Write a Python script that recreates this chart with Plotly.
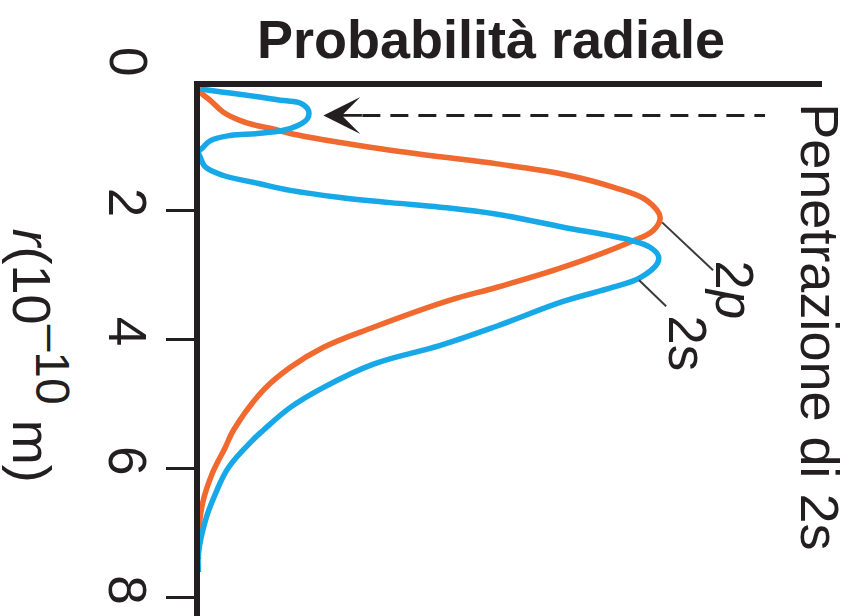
import plotly.graph_objects as go

# ---- data ----
r_2p = [0.10, 0.17, 0.30, 0.48, 0.61, 0.69, 0.74, 0.81, 0.95, 1.07, 1.17, 1.28, 1.44, 1.64,
        1.85, 2.11, 2.31, 2.49, 2.88, 3.19, 3.39, 3.81, 4.12, 4.43, 4.78, 5.40, 5.67, 6.07,
        6.53, 7.03, 7.40]
p_2p = [0.0, 0.4, 2.6, 5.4, 9.1, 12.8, 16.2, 19.9, 30.7, 41.6, 52.4, 64.7, 79.0, 89.8,
        97.2, 100.0, 98.5, 93.5, 79.0, 64.7, 54.5, 37.9, 27.1, 19.9, 14.1, 7.6, 5.8, 3.0,
        0.9, 0.0, 0.0]

r_2s = [0.12, 0.17, 0.24, 0.30, 0.34, 0.45, 0.58, 0.69, 0.76, 0.81, 0.84, 0.92, 1.03, 1.10,
        1.18, 1.33, 1.46, 1.58, 1.69, 1.80, 1.88, 1.95, 2.06, 2.26, 2.46, 2.57, 2.70, 2.82,
        3.04, 3.19, 3.41, 3.79, 4.09, 4.38, 4.74, 5.05, 5.40, 5.56, 5.98, 6.38, 6.80, 7.31, 7.60]
p_2s = [0.4, 5.4, 12.8, 18.4, 22.1, 23.8, 23.6, 21.4, 18.4, 12.8, 6.9, 2.6, 0.9, 0.0,
        0.4, 1.5, 5.4, 12.8, 19.9, 30.7, 41.6, 52.4, 64.7, 79.0, 93.5, 97.8, 99.6, 99.4,
        95.7, 89.8, 79.0, 64.7, 52.4, 37.9, 27.1, 19.9, 14.1, 11.7, 6.5, 3.7, 1.5, 0.0, 0.0]

r_ticks = [2, 4, 6, 8]
r_tick_labels = ["2", "4", "6", "8"]

title_text = "<b>Probabilità radiale</b>"
y_title_text = "<i>r</i>(10<sup><span style='font-size:48px'>–10</span></sup> m)"
side_text = "Penetrazione di 2s"
label_2p = "2<i>p</i>"
label_2s = "2s"

ORANGE = "#F0692F"
BLUE = "#17A8E8"
INK = "#231F20"
FONT = "Liberation Sans, Arial, sans-serif"

W, H = 852, 616
L, R, T, B = 199.5, 822, 86.5, 616


def px(x):
    return (x - L) / (R - L)


def py(y):
    return (B - y) / (B - T)


fig = go.Figure()
fig.add_trace(go.Scatter(x=p_2p, y=r_2p, mode="lines", name="2p",
                         line=dict(color=ORANGE, width=5.5, shape="spline", smoothing=1.1)))
fig.add_trace(go.Scatter(x=p_2s, y=r_2s, mode="lines", name="2s",
                         line=dict(color=BLUE, width=5.5, shape="spline", smoothing=1.1)))

x0 = (L - 198) / 4.62
x1 = (R - 198) / 4.62
y0 = (T - 80.7) / 64.65
y1 = (B - 80.7) / 64.65

fig.update_xaxes(range=[x0, x1], side="top", showline=True, linewidth=6, linecolor=INK,
                 showticklabels=False, ticks="", showgrid=False, zeroline=False)
fig.update_yaxes(range=[y1, y0], showline=True, linewidth=6, linecolor=INK,
                 tickvals=r_ticks, ticktext=r_tick_labels, tickangle=90,
                 ticks="outside", ticklen=28, tickwidth=3, tickcolor=INK,
                 ticklabelstandoff=-7,
                 tickfont=dict(family=FONT, size=53, color=INK),
                 showgrid=False, zeroline=False)

ann = [
    dict(text=title_text, x=px(491), y=py(38), font=dict(size=54)),
    dict(text="0", x=px(128), y=py(61), textangle=90, font=dict(size=53)),
    dict(text=y_title_text, x=px(40), y=py(355), textangle=90, font=dict(size=54)),
    dict(text=side_text, x=px(820), y=py(326), textangle=90, font=dict(size=54)),
    dict(text=label_2p, x=px(735), y=py(289), textangle=90, font=dict(size=53)),
    dict(text=label_2s, x=px(688), y=py(343), textangle=90, font=dict(size=53)),
]
for a in ann:
    a.update(xref="paper", yref="paper", showarrow=False, xanchor="center", yanchor="middle")
    a["font"].update(family=FONT, color=INK)
    fig.add_annotation(**a)

# dashed arrow (penetration of 2s)
fig.add_annotation(x=px(323), y=py(115), xref="paper", yref="paper", text="",
                   showarrow=True, ax=40, ay=0, arrowhead=3, arrowsize=2.2,
                   arrowwidth=2.8, arrowcolor=INK)
fig.add_shape(type="line", xref="paper", yref="paper", x0=px(362), x1=px(765),
              y0=py(115), y1=py(115), line=dict(color=INK, width=3, dash="18px,10px"))

# leader lines
fig.add_shape(type="line", xref="paper", yref="paper", x0=px(662), y0=py(222),
              x1=px(713), y1=py(270), line=dict(color="#3a3a3a", width=2))
fig.add_shape(type="line", xref="paper", yref="paper", x0=px(639), y0=py(280),
              x1=px(666), y1=py(306), line=dict(color="#3a3a3a", width=2))

fig.update_layout(width=W, height=H, showlegend=False,
                  margin=dict(l=L, r=W - R, t=T, b=H - B),
                  paper_bgcolor="white", plot_bgcolor="white")

fig.write_html("out.html", config={"displayModeBar": False},
               post_script="document.body.style.margin='0';document.body.style.overflow='hidden';")
